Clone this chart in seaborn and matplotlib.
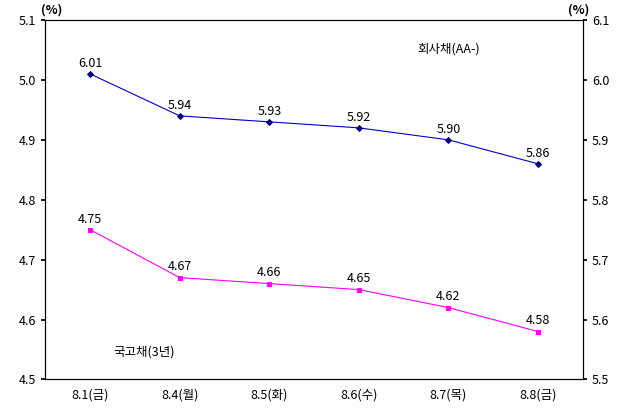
import matplotlib
matplotlib.use("Agg")
import matplotlib.pyplot as plt
import seaborn as sns
import pandas as pd

sns.set_theme(style="white")
plt.rcParams['font.family'] = ['Noto Sans CJK KR', 'DejaVu Sans']
plt.rcParams['text.color'] = 'black'
plt.rcParams['xtick.color'] = 'black'
plt.rcParams['ytick.color'] = 'black'

dates = ["8.1(금)", "8.4(월)", "8.5(화)", "8.6(수)", "8.7(목)", "8.8(금)"]
corp = [6.01, 5.94, 5.93, 5.92, 5.90, 5.86]
gov = [4.75, 4.67, 4.66, 4.65, 4.62, 4.58]

df = pd.DataFrame({"date": dates, "x": range(len(dates)), "corp": corp, "gov": gov})

fig, ax = plt.subplots(figsize=(6.3, 4.17), dpi=100)
fig.subplots_adjust(left=0.072, right=0.925, top=0.952, bottom=0.09)
ax2 = ax.twinx()

sns.lineplot(data=df, x="x", y="gov", ax=ax, color="#FF00FF", marker="s",
             markersize=3.5, markeredgecolor="#FF00FF", linewidth=0.8)
sns.lineplot(data=df, x="x", y="corp", ax=ax2, color="#0000CC", marker="D",
             markersize=3, markeredgecolor="#000080", markerfacecolor="#000080", linewidth=0.8)

ax.set_xlim(-0.5, 5.5)
ax.set_ylim(4.5, 5.1)
ax2.set_ylim(5.5, 6.1)
ax.set_yticks([4.5, 4.6, 4.7, 4.8, 4.9, 5.0, 5.1])
ax2.set_yticks([5.5, 5.6, 5.7, 5.8, 5.9, 6.0, 6.1])
ax.set_xticks(range(len(dates)))
ax.set_xticklabels(dates, fontsize=9)
for a in (ax, ax2):
    a.set_xlabel("")
    a.set_ylabel("")
    a.tick_params(labelsize=9, length=3, direction="out")
    for s in a.spines.values():
        s.set_color("black"); s.set_linewidth(0.8)
ax.tick_params(axis="both", left=True, bottom=False)
ax2.tick_params(axis="y", right=True)
ax.set_yticklabels([f"{v:.1f}" for v in ax.get_yticks()])
ax2.set_yticklabels([f"{v:.1f}" for v in ax2.get_yticks()])

for i, v in enumerate(gov):
    ax.text(i, v + 0.007, f"{v:.2f}", ha="center", va="bottom", fontsize=9)
for i, v in enumerate(corp):
    ax2.text(i, v + 0.007, f"{v:.2f}", ha="center", va="bottom", fontsize=9)

fig.text(0.065, 0.975, "(%)", ha="left", va="center", fontsize=9, fontweight="bold")
fig.text(0.935, 0.975, "(%)", ha="right", va="center", fontsize=9, fontweight="bold")
ax2.text(4.0, 6.045, "회사채(AA-)", ha="center", fontsize=9)
ax.text(0.6, 4.54, "국고채(3년)", ha="center", fontsize=9)

fig.savefig("out.png", dpi=100)
